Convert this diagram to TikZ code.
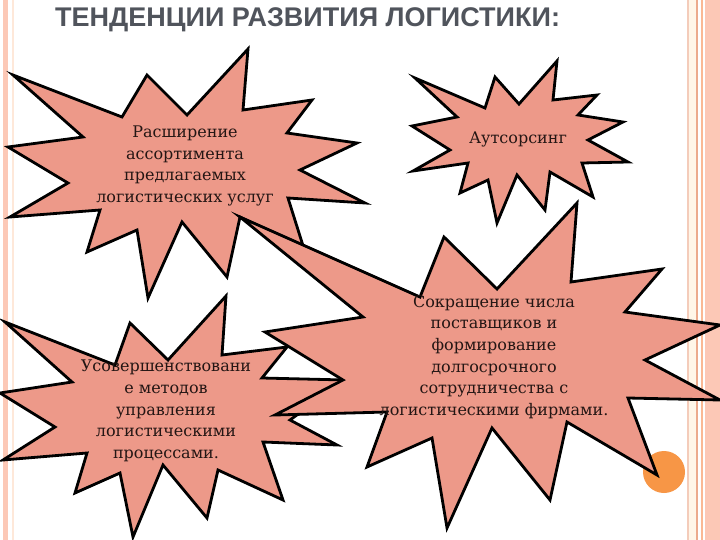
\documentclass[tikz,border=0pt]{standalone}
\usepackage{fontspec}
\setmainfont{DejaVu Serif}
\newfontfamily\titlefont{Liberation Sans}
\usepackage{xcolor}
\usetikzlibrary{positioning}
\definecolor{burstfill}{RGB}{237,153,137}
\definecolor{burstink}{RGB}{36,22,20}
\definecolor{titlegray}{RGB}{80,84,92}
\definecolor{framepink}{RGB}{252,200,182}
\definecolor{frameline}{RGB}{236,170,140}
\definecolor{framecream}{RGB}{255,246,232}
\definecolor{dotorange}{RGB}{247,150,70}

\begin{document}
\begin{tikzpicture}[x=1pt, y=-1pt, every node/.style={font=\fontsize{16}{21.7}\selectfont}]
  \tikzset{burst/.style={draw=black, line width=2.8pt, fill=burstfill},
           bursttext/.style={align=center, text=burstink, inner sep=0pt}}
  \useasboundingbox (0,0) rectangle (720,540);
  \fill[white] (0,0) rectangle (720,540);
  % frame stripes
  \fill[framepink] (3,0) rectangle (8,540);
  \fill[framecream!70!framepink] (12,0) rectangle (14,540);
  \fill[framecream] (689,0) rectangle (696,540);
  \fill[frameline!60] (687,0) rectangle (689,540);
  \fill[frameline] (696,0) rectangle (698,540);
  \fill[framepink!70!dotorange] (701,0) rectangle (703,540);
  \fill[framepink] (705,0) rectangle (720,540);
  % title
  \node[font=\titlefont\bfseries\fontsize{27}{30}\selectfont, text=titlegray,
        anchor=west, inner sep=0pt] (title) at (55,20) {ТЕНДЕНЦИИ РАЗВИТИЯ ЛОГИСТИКИ:};
  % orange dot
  \fill[dotorange] (664,472) circle (21);
  % bursts
  \draw[burst] (13,75) -- (122,117) -- (147,75) -- (187,115) -- (248,49) -- (243,110)
    -- (312,100) -- (287,133) -- (357,143) -- (300,170) -- (365,203) -- (288,198)
    -- (305,252) -- (240,217) -- (227,277) -- (182,222) -- (148,298) -- (137,230)
    -- (87,252) -- (100,210) -- (10,217) -- (68,183) -- (8,147) -- (83,137) -- cycle;
  \draw[burst] (415,78) -- (485,108) -- (495,77) -- (519,104) -- (557,61) -- (553,100)
    -- (597,95) -- (578,115) -- (623,122) -- (588,140) -- (628,162) -- (582,163)
    -- (593,197) -- (550,172) -- (545,210) -- (517,175) -- (497,223) -- (488,180)
    -- (460,193) -- (468,163) -- (413,171) -- (450,150) -- (412,126) -- (457,117) -- cycle;
  \draw[burst] (5,322) -- (115,365) -- (130,323) -- (168,360) -- (226,296) -- (222,355)
    -- (287,347) -- (262,378) -- (345,380) -- (290,420) -- (337,445) -- (263,442)
    -- (283,500) -- (218,470) -- (207,518) -- (163,465) -- (133,537) -- (120,473)
    -- (75,493) -- (87,453) -- (3,460) -- (55,427) -- (0,393) -- (72,382) -- cycle;
  \draw[burst] (240,217) -- (420,297) -- (444,237) -- (497,289) -- (577,203) -- (571,282)
    -- (662,269) -- (625,312) -- (720,325) -- (645,360) -- (720,400) -- (628,398)
    -- (657,475) -- (567,422) -- (550,500) -- (492,428) -- (447,528) -- (432,438)
    -- (367,467) -- (387,412) -- (275,415) -- (343,380) -- (265,332) -- (363,317) -- cycle;
  % texts
  \node[bursttext] (range)  at (185,166) {Расширение\\ассортимента\\предлагаемых\\логистических услуг};
  \node[bursttext] (outsrc) at (518,139) {Аутсорсинг};
  \node[bursttext] (methods) at (166,411) {Усовершенствовани\\е методов\\управления\\логистическими\\процессами.};
  \node[bursttext] (supply) at (494,357) {Сокращение числа\\поставщиков и\\формирование\\долгосрочного\\сотрудничества с\\логистическими фирмами.};
\end{tikzpicture}
\end{document}
